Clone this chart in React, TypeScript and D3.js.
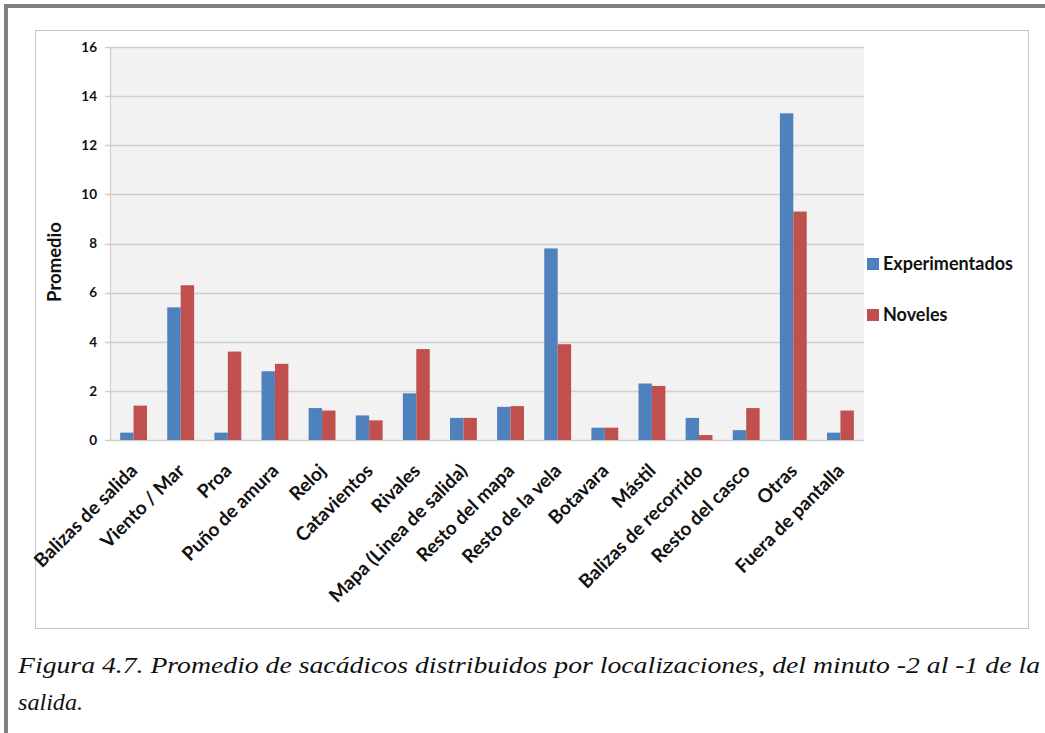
import React from "react";
import * as d3 from "d3";

const categories = [
  "Balizas de salida", "Viento / Mar", "Proa", "Puño de amura", "Reloj", "Catavientos",
  "Rivales", "Mapa (Linea de salida)", "Resto del mapa", "Resto de la vela", "Botavara",
  "Mástil", "Balizas de recorrido", "Resto del casco", "Otras", "Fuera de pantalla",
];
const experimentados = [0.3, 5.4, 0.3, 2.8, 1.3, 1.0, 1.9, 0.9, 1.35, 7.8, 0.5, 2.3, 0.9, 0.4, 13.3, 0.3];
const noveles = [1.4, 6.3, 3.6, 3.1, 1.2, 0.8, 3.7, 0.9, 1.38, 3.9, 0.5, 2.2, 0.2, 1.3, 9.3, 1.2];
const seriesNames = ["Experimentados", "Noveles"];
const seriesColors = ["#4f81bd", "#c0504d"];
const yTicks = [0, 2, 4, 6, 8, 10, 12, 14, 16];
const caption1 = "Figura 4.7. Promedio de sacádicos distribuidos por localizaciones, del minuto -2 al -1 de la";
const caption2 = "salida.";

export default function App() {
  const W = 1045, H = 733;
  const plot = { left: 110, right: 864, top: 47, bottom: 440 };
  const x = d3.scaleBand<string>().domain(categories).range([plot.left, plot.right]).paddingInner(0.43).paddingOuter(0.215);
  const x1 = d3.scaleBand<string>().domain(seriesNames).range([0, x.bandwidth()]);
  const y = d3.scaleLinear().domain([0, 16]).range([plot.bottom, plot.top]);
  const data = [experimentados, noveles];
  const font = "Lato, 'Open Sans', sans-serif";

  return (
    <svg width={W} height={H} style={{ position: "absolute", left: 0, top: 0 }} fontFamily={font}>
      <rect x={0} y={0} width={W} height={H} fill="#fff" />
      {/* outer frame */}
      <rect x={6} y={6} width={W + 20} height={H + 20} fill="none" stroke="#808080" strokeWidth={4} />
      {/* chart box */}
      <rect x={35.5} y={30.5} width={993} height={598} fill="#fff" stroke="#c6c6c6" strokeWidth={1} />
      {/* plot area */}
      <rect x={plot.left} y={plot.top} width={plot.right - plot.left} height={plot.bottom - plot.top} fill="#f2f2f2" />
      {yTicks.map((t) => (
        <g key={t}>
          <line x1={plot.left - 5} x2={plot.right} y1={Math.round(y(t)) + 0.5} y2={Math.round(y(t)) + 0.5} stroke="#cfcfcf" strokeWidth={1.3} />
          <text x={97} y={y(t)} dy="0.36em" textAnchor="end" fontSize={13.5} fontWeight={700} fill="#111">{t}</text>
        </g>
      ))}
      <line x1={plot.left + 0.5} x2={plot.left + 0.5} y1={plot.top} y2={plot.bottom} stroke="#cfcfcf" strokeWidth={1.3} />
      {categories.map((c, i) => (
        <g key={c}>
          {data.map((s, j) => (
            <rect key={j} x={(x(c) as number) + (x1(seriesNames[j]) as number)} y={y(s[i])}
              width={x1.bandwidth()} height={y(0) - y(s[i])} fill={seriesColors[j]} />
          ))}
          <text transform={`translate(${(x(c) as number) + x.bandwidth() / 2 + 5},${472}) rotate(-45)`}
            textAnchor="end" fontSize={19} fontWeight={700} fill="#111">{c}</text>
        </g>
      ))}
      <text transform={`translate(61,${262}) rotate(-90)`} textAnchor="middle"
        fontSize={18.5} fontWeight={700} fill="#111">Promedio</text>
      {seriesNames.map((n, j) => (
        <g key={n}>
          <rect x={867} y={258 + j * 51} width={12} height={12} fill={seriesColors[j]} />
          <text x={883} y={264 + j * 51} dy="0.36em" fontSize={18} fontWeight={700} fill="#111">{n}</text>
        </g>
      ))}
      <text x={18} y={673} fontFamily="'Liberation Serif', serif" fontStyle="italic" fontSize={24}
        fill="#111" textLength={1022} lengthAdjust="spacingAndGlyphs">{caption1}</text>
      <text x={18} y={710} fontFamily="'Liberation Serif', serif" fontStyle="italic" fontSize={24}
        fill="#111" textLength={65} lengthAdjust="spacingAndGlyphs">{caption2}</text>
    </svg>
  );
}
